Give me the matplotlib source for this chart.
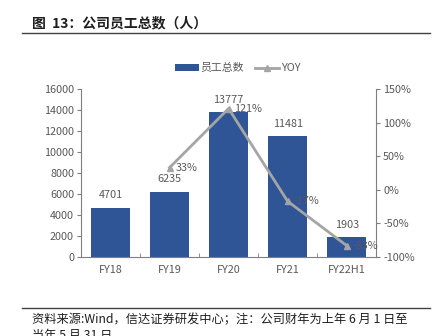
import matplotlib
matplotlib.use("Agg")
import matplotlib.pyplot as plt
import numpy as np

plt.rcParams['font.family'] = ['Noto Sans CJK SC', 'DejaVu Sans']

categories = ["FY18", "FY19", "FY20", "FY21", "FY22H1"]
employees = [4701, 6235, 13777, 11481, 1903]
yoy = [None, 33, 121, -17, -83]
yoy_labels = ["", "33%", "121%", "-17%", "-83%"]
left_ticks = [0, 2000, 4000, 6000, 8000, 10000, 12000, 14000, 16000]
right_ticks = [-100, -50, 0, 50, 100, 150]

bar_color = "#2F5597"
line_color = "#A5A5A5"
txt_color = "#595959"

fig = plt.figure(figsize=(4.4, 3.36), dpi=100)
ax = fig.add_axes([0.184, 0.235, 0.671, 0.50])
x = np.arange(len(categories))
bars = ax.bar(x, employees, width=0.65, color=bar_color, label="员工总数", zorder=2)
ax.set_xlim(-0.5, len(categories) - 0.5)
ax.set_ylim(0, 16000)
ax.set_yticks(left_ticks)
ax.set_yticklabels([str(t) for t in left_ticks], fontsize=7.8, color=txt_color)
ax.set_xticks(x)
ax.set_xticklabels(categories, fontsize=7.8, color=txt_color)
ax.tick_params(axis='x', length=0, pad=6)
ax.set_xticks(np.arange(len(categories) - 1) + 0.5, minor=True)
ax.tick_params(axis='x', which='minor', direction='in', length=3, color='#7f7f7f')
ax.tick_params(axis='y', length=3, color='#7f7f7f', pad=2)
for s in ['top', 'right']:
    ax.spines[s].set_visible(False)
for s in ['left', 'bottom']:
    ax.spines[s].set_color('#7f7f7f')
    ax.spines[s].set_linewidth(0.8)
for xi, v in zip(x, employees):
    ax.text(xi, v + 700, str(v), ha='center', va='bottom', fontsize=7.8, color=txt_color)

ax2 = ax.twinx()
xs = [xi for xi, v in zip(x, yoy) if v is not None]
ys = [v for v in yoy if v is not None]
ax2.plot(xs, ys, color=line_color, lw=2, marker='^', markersize=4, label="YOY", zorder=3)
ax2.set_ylim(-100, 150)
ax2.set_yticks(right_ticks)
ax2.set_yticklabels([f"{t}%" for t in right_ticks], fontsize=7.8, color=txt_color)
ax2.tick_params(axis='y', length=3, color='#7f7f7f', pad=2)
for s in ['top', 'left', 'bottom']:
    ax2.spines[s].set_visible(False)
ax2.spines['right'].set_color('#7f7f7f')
ax2.spines['right'].set_linewidth(0.8)
for xi, v, lab in zip(x, yoy, yoy_labels):
    if v is not None:
        ax2.text(xi + 0.1, v, lab, ha='left', va='center', fontsize=7.8, color=txt_color)

h1, l1 = ax.get_legend_handles_labels()
h2, l2 = ax2.get_legend_handles_labels()
fig.legend(h1 + h2, l1 + l2, loc='center', bbox_to_anchor=(0.54, 0.797), ncol=2,
           frameon=False, fontsize=7.8, labelcolor=txt_color, handlelength=2.2,
           handleheight=0.6, columnspacing=1.0, handletextpad=0.2)

fig.text(0.073, 0.929, "图  13：公司员工总数（人）", fontsize=10, fontweight='bold',
         color='#1f1f1f', va='center', ha='left')
fig.add_artist(plt.Line2D([0.05, 0.977], [0.902, 0.902], color='#404040', lw=1.0))
fig.add_artist(plt.Line2D([0.05, 0.977], [0.083, 0.083], color='#404040', lw=1.0))
fig.text(0.073, 0.047, "资料来源:Wind，信达证券研发中心；注：公司财年为上年 6 月 1 日至",
         fontsize=8.8, style='italic', color='#1f1f1f', va='center', ha='left')
fig.text(0.073, 0.003, "当年 5 月 31 日", fontsize=8.8, style='italic', color='#1f1f1f',
         va='center', ha='left')

fig.savefig("out.png", dpi=100)
